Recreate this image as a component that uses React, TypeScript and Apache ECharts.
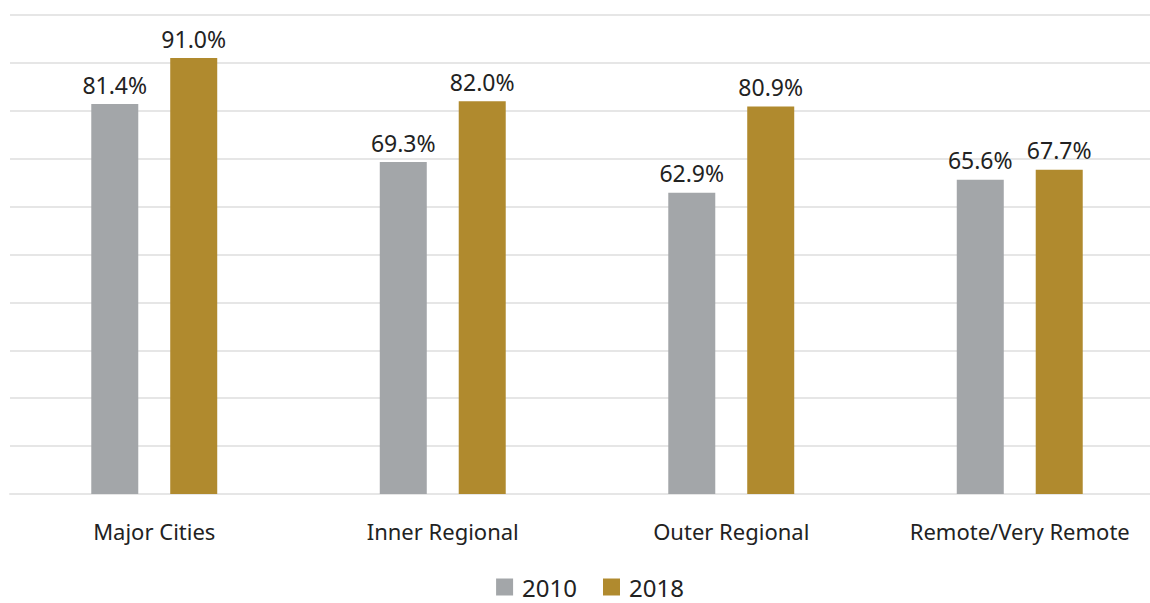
import React, { useEffect, useRef } from "react";
import * as echarts from "echarts";

const categories = ["Major Cities", "Inner Regional", "Outer Regional", "Remote/Very Remote"];
const values2010 = [81.4, 69.3, 62.9, 65.6];
const values2018 = [91.0, 82.0, 80.9, 67.7];
const seriesNames = ["2010", "2018"];

export default function App() {
  const ref = useRef<HTMLDivElement>(null);
  useEffect(() => {
    document.body.style.margin = "0";
    const chart = echarts.init(ref.current!, undefined, { renderer: "svg" });
    const font = "'Noto Sans', sans-serif";
    const label = {
      show: true,
      position: "top",
      distance: 8,
      formatter: (p: any) => p.value.toFixed(1) + "%",
      color: "#222",
      fontSize: 23,
      fontFamily: font,
    };
    chart.setOption({
      animation: false,
      grid: { left: 10, right: 16, top: 15, bottom: 109, containLabel: false },
      legend: {
        bottom: 4,
        padding: 0,
        left: "center",
        itemWidth: 17,
        itemHeight: 17,
        itemGap: 26,
        icon: "rect",
        textStyle: { color: "#222", fontSize: 24, lineHeight: 24, fontFamily: font, padding: [0, 0, 0, 4] },
        data: seriesNames,
      },
      xAxis: {
        type: "category",
        data: categories,
        axisTick: { show: false },
        axisLine: { show: true, lineStyle: { color: "#e6e6e6", width: 2 } },
        axisLabel: { color: "#222", fontSize: 22, fontFamily: font, margin: 26, interval: 0 },
      },
      yAxis: {
        type: "value",
        min: 0,
        max: 100,
        interval: 10,
        axisLabel: { show: false },
        axisLine: { show: false },
        axisTick: { show: false },
        splitLine: { lineStyle: { color: "#e6e6e6", width: 2 } },
      },
      series: [
        {
          name: seriesNames[0],
          type: "bar",
          data: values2010,
          barWidth: 47,
          barGap: "68%",
          itemStyle: { color: "#A3A6A9" },
          label,
        },
        {
          name: seriesNames[1],
          type: "bar",
          data: values2018,
          barWidth: 47,
          itemStyle: { color: "#B08A2E" },
          label,
        },
      ],
    });
    return () => chart.dispose();
  }, []);
  return (
    <div style={{ width: 1150, height: 603, overflow: "hidden" }}>
      <div ref={ref} style={{ width: 1180, height: 603 }} />
    </div>
  );
}
